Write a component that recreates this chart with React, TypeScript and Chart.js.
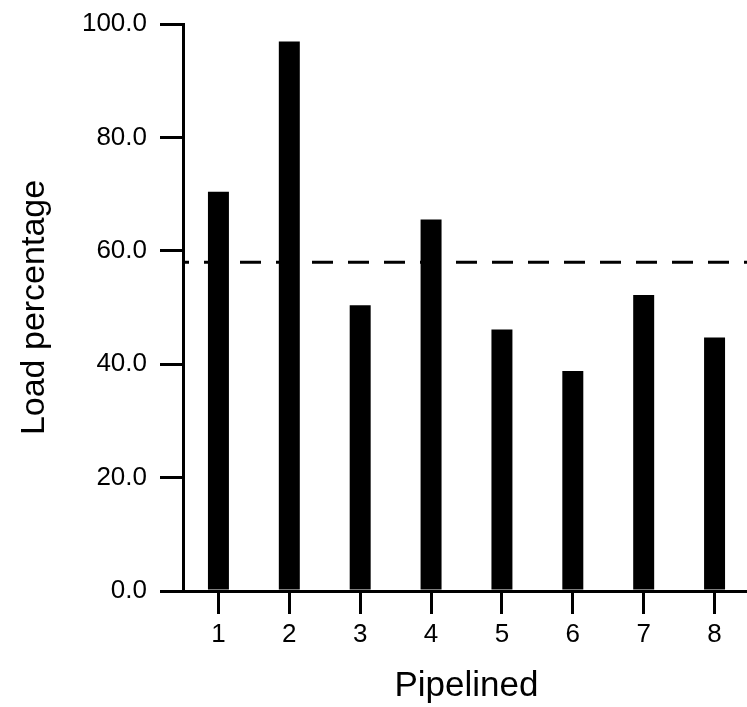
import React, { useEffect, useRef } from "react";
import { Chart, registerables } from "chart.js";

Chart.register(...registerables);

const categories = ["1", "2", "3", "4", "5", "6", "7", "8"];
const loadValues = [70.4, 96.9, 50.4, 65.5, 46.1, 38.8, 52.2, 44.7];
const thresholdValue = 58.0;
const yTickValues = [0, 20, 40, 60, 80, 100];

const FONT = "'Liberation Sans', Arial, Helvetica, sans-serif";

const thresholdPlugin = {
  id: "threshold",
  beforeDatasetsDraw(chart: any) {
    const { ctx, chartArea, scales } = chart;
    const y = scales.y.getPixelForValue(thresholdValue);
    ctx.save();
    ctx.strokeStyle = "#000";
    ctx.lineWidth = 3;
    ctx.setLineDash([21, 15]);
    ctx.lineDashOffset = 15;
    ctx.beginPath();
    ctx.moveTo(chartArea.left, y);
    ctx.lineTo(chartArea.right, y);
    ctx.stroke();
    ctx.restore();
  },
};

export default function App() {
  const ref = useRef<HTMLCanvasElement | null>(null);
  useEffect(() => {
    if (!ref.current) return;
    const chart = new Chart(ref.current, {
      type: "bar",
      data: {
        labels: categories,
        datasets: [
          {
            data: loadValues,
            backgroundColor: "#000",
            borderWidth: 0,
            categoryPercentage: 1,
            barPercentage: 0.296,
          },
        ],
      },
      plugins: [thresholdPlugin],
      options: {
        animation: false,
        responsive: false,
        devicePixelRatio: 1,
        layout: { autoPadding: false, padding: { top: 24, left: 0, right: 0, bottom: 0 } },
        plugins: { legend: { display: false }, tooltip: { enabled: false } },
        scales: {
          x: {
            afterFit: (s: any) => {
              s.height = 116;
              s.paddingLeft = 0;
              s.paddingRight = 0;
            },
            grid: {
              offset: false,
              drawOnChartArea: false,
              drawTicks: true,
              tickLength: 23,
              tickWidth: 3,
              tickColor: "#000",
              color: "#000",
              lineWidth: 3,
            },
            border: { display: true, color: "#000", width: 3 },
            ticks: {
              color: "#000",
              font: { family: FONT, size: 26 },
              padding: 5,
              maxRotation: 0,
            },
            title: {
              display: true,
              text: "Pipelined",
              color: "#000",
              font: { family: FONT, size: 35 },
              padding: { top: 0, bottom: 0 },
            },
          },
          y: {
            min: 0,
            max: 100,
            afterFit: (s: any) => {
              s.width = 183;
              s.paddingTop = 0;
              s.paddingBottom = 0;
            },
            afterBuildTicks: (s: any) => {
              s.ticks = yTickValues.map((v) => ({ value: v }));
            },
            grid: {
              drawOnChartArea: false,
              drawTicks: true,
              tickLength: 23,
              tickWidth: 3,
              tickColor: "#000",
              color: "#000",
              lineWidth: 3,
            },
            border: { display: true, color: "#000", width: 3 },
            ticks: {
              color: "#000",
              font: { family: FONT, size: 26 },
              padding: 13,
              callback: (v: any) => Number(v).toFixed(1),
            },
            title: {
              display: true,
              text: "Load percentage",
              color: "#000",
              font: { family: FONT, size: 34 },
              padding: { top: 14, bottom: 0 },
            },
          },
        },
      },
    });
    return () => chart.destroy();
  }, []);
  return (
    <div
      style={{
        position: "absolute",
        left: 0,
        top: 0,
        width: 747,
        height: 707,
        overflow: "hidden",
        background: "#fff",
      }}
    >
      <canvas ref={ref} width={750} height={707} style={{ display: "block" }} />
    </div>
  );
}
